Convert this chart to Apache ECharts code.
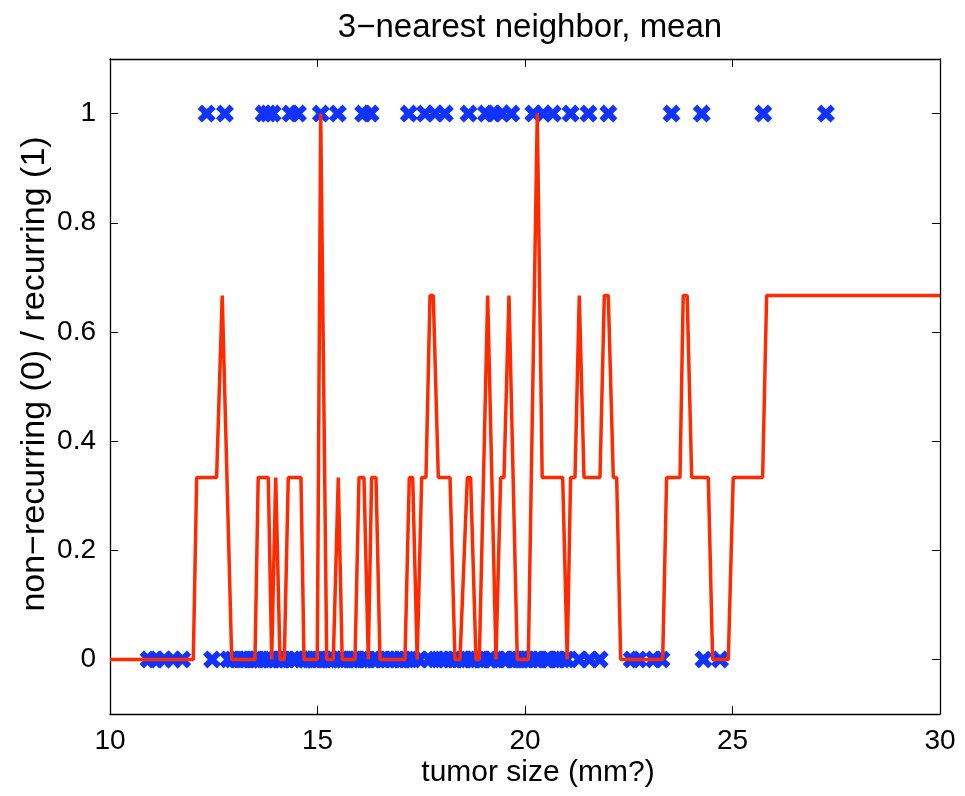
<!DOCTYPE html>
<html>
<head>
<meta charset="utf-8">
<script src="https://cdn.jsdelivr.net/npm/echarts@6/dist/echarts.min.js"></script>
<style>html,body{margin:0;padding:0;background:#fff}#c{width:965px;height:796px}</style>
</head>
<body>
<div id="c"></div>
<script>
// ---- data ----
const recurringX = [12.33, 12.77, 13.70, 13.81, 13.92, 14.35, 14.53, 15.08, 15.49, 16.10, 16.28,
  17.20, 17.59, 17.83, 18.07, 18.64, 19.06, 19.24, 19.44, 19.67, 20.20, 20.44, 20.67,
  21.10, 21.53, 22.01, 23.53, 24.26, 25.74, 27.25];
const nonRecurringX = [10.93, 11.10, 11.30, 11.52, 11.74, 12.46,
  12.85, 12.95, 13.05, 13.15, 13.22, 13.30, 13.40, 13.48, 13.55, 13.62, 13.75, 13.85, 13.90,
  14.00, 14.10, 14.15, 14.25, 14.40, 14.50, 14.62, 14.70, 14.80, 14.90, 14.97, 15.05, 15.15,
  15.25, 15.32, 15.40, 15.55, 15.62, 15.70, 15.80, 15.88, 15.95, 16.05, 16.15, 16.20, 16.35,
  16.45, 16.55, 16.60, 16.70, 16.80, 16.90, 17.00, 17.05, 17.15, 17.30, 17.45, 17.70, 17.85,
  18.00, 18.10, 18.20, 18.30, 18.40, 18.50, 18.55, 18.70, 18.75, 18.85, 18.95, 19.00, 19.15,
  19.20, 19.35, 19.50, 19.55, 19.70, 19.75, 19.85, 19.90, 20.00, 20.05, 20.15, 20.25, 20.35,
  20.50, 20.55, 20.60, 20.75, 20.80, 20.90, 21.00, 21.30, 21.55, 21.80, 22.57, 22.73, 23.11,
  23.29, 24.30, 24.70];
const knnX = [10, 12.007, 12.089, 12.569, 12.704, 12.933, 13.494, 13.571, 13.814, 13.896, 13.993,
  14.096, 14.200, 14.296, 14.602, 14.675, 14.995, 15.077, 15.222, 15.381, 15.501, 15.595,
  15.904, 16.000, 16.120, 16.224, 16.304, 16.410, 16.506, 17.108, 17.212, 17.294, 17.402,
  17.511, 17.614, 17.711, 17.790, 17.911, 18.193, 18.313, 18.434, 18.610, 18.690, 18.819,
  18.899, 19.101, 19.301, 19.414, 19.494, 19.614, 19.814, 20.080, 20.296, 20.414, 20.908,
  21.017, 21.099, 21.205, 21.308, 21.422, 21.807, 21.911, 22.007, 22.128, 22.209, 22.306,
  23.318, 23.412, 23.735, 23.812, 23.908, 24.017, 24.417, 24.521, 24.899, 25.017, 25.726,
  25.822, 30];
const knnY = [0, 0, 0.3333, 0.3333, 0.6667, 0, 0, 0.3333, 0.3333, 0, 0.3333,
  0, 0, 0.3333, 0.3333, 0, 0, 1, 0, 0, 0.3333, 0,
  0, 0.3333, 0.3333, 0, 0.3333, 0.3333, 0, 0, 0.3333, 0.3333, 0,
  0.3333, 0.3333, 0.6667, 0.6667, 0.3333, 0.3333, 0, 0, 0.3333, 0.3333, 0,
  0, 0.6667, 0, 0.3333, 0.3333, 0.6667, 0, 0, 1, 0.3333, 0.3333,
  0, 0.3333, 0.3333, 0.6667, 0.3333, 0.3333, 0.6667, 0.6667, 0.3333, 0.3333, 0,
  0, 0.3333, 0.3333, 0.6667, 0.6667, 0.3333, 0.3333, 0, 0, 0.3333, 0.3333,
  0.6667, 0.6667];
const xTicks = [10, 15, 20, 25, 30];
const yTicks = [0, 0.2, 0.4, 0.6, 0.8, 1];
const titleText = '3\u2212nearest neighbor, mean';
const xName = 'tumor size (mm?)';
const yName = 'non\u2212recurring (0) / recurring (1)';

// ---- chart ----
const FONT = 'Liberation Sans, Arial, Helvetica, sans-serif';
const crossPath = 'path://M2.4,0 L5,2.6 L7.6,0 L10,2.4 L7.4,5 L10,7.6 L7.6,10 L5,7.4 L2.4,10 L0,7.6 L2.6,5 L0,2.4 Z';
const chart = echarts.init(document.getElementById('c'), null, {renderer: 'canvas'});
const axisLine = {show: true, onZero: false, lineStyle: {color: '#000', width: 1.3}};
const tick = {show: true, inside: true, length: 8, lineStyle: {color: '#000', width: 1}};
const scatterData = recurringX.map(x => [x, 1]).concat(nonRecurringX.map(x => [x, 0]));
const lineData = knnX.map((x, i) => [x, knnY[i]]);

chart.setOption({
  animation: false,
  backgroundColor: '#fff',
  title: {
    text: titleText,
    left: 525, top: 6, textAlign: 'center',
    textStyle: {fontFamily: FONT, fontSize: 33, fontWeight: 'normal', color: '#000'}
  },
  graphic: [{
    type: 'text', x: 35, y: 374, rotation: Math.PI / 2,
    style: {text: yName, textAlign: 'center', textVerticalAlign: 'middle',
      fontFamily: FONT, fontSize: 34, fill: '#000'}
  }, {
    type: 'text', x: 538, y: 773,
    style: {text: xName, textAlign: 'center', textVerticalAlign: 'middle',
      fontFamily: FONT, fontSize: 30, fill: '#000'}
  }],
  grid: {left: 110, top: 59, width: 830, height: 655},
  xAxis: [{
    type: 'value', min: 10, max: 30, interval: 5, position: 'bottom',
    axisLine: axisLine, axisTick: tick, splitLine: {show: false},
    axisLabel: {margin: 13, fontFamily: FONT, fontSize: 28, color: '#000',
      customValues: xTicks}
  }, {
    type: 'value', min: 10, max: 30, interval: 5, position: 'top',
    axisLine: axisLine, axisTick: tick, axisLabel: {show: false}, splitLine: {show: false}
  }],
  yAxis: [{
    type: 'value', min: -0.1, max: 1.1, position: 'left',
    axisLine: axisLine,
    axisTick: Object.assign({}, tick, {customValues: yTicks}),
    axisLabel: {margin: 14, fontFamily: FONT, fontSize: 28, color: '#000',
      customValues: yTicks, formatter: v => String(Math.round(v * 10) / 10)},
    splitLine: {show: false}
  }, {
    type: 'value', min: -0.1, max: 1.1, position: 'right',
    axisLine: axisLine,
    axisTick: Object.assign({}, tick, {customValues: yTicks}),
    axisLabel: {show: false}, splitLine: {show: false}
  }],
  series: [{
    type: 'scatter', xAxisIndex: 0, yAxisIndex: 0, data: scatterData,
    symbol: crossPath, symbolSize: 18,
    itemStyle: {color: '#1133ff', opacity: 1}, z: 2
  }, {
    type: 'line', xAxisIndex: 0, yAxisIndex: 0, data: lineData,
    showSymbol: false, symbol: 'none',
    lineStyle: {color: '#ff2a00', width: 3.5}, z: 3
  }]
});
</script>
</body>
</html>
